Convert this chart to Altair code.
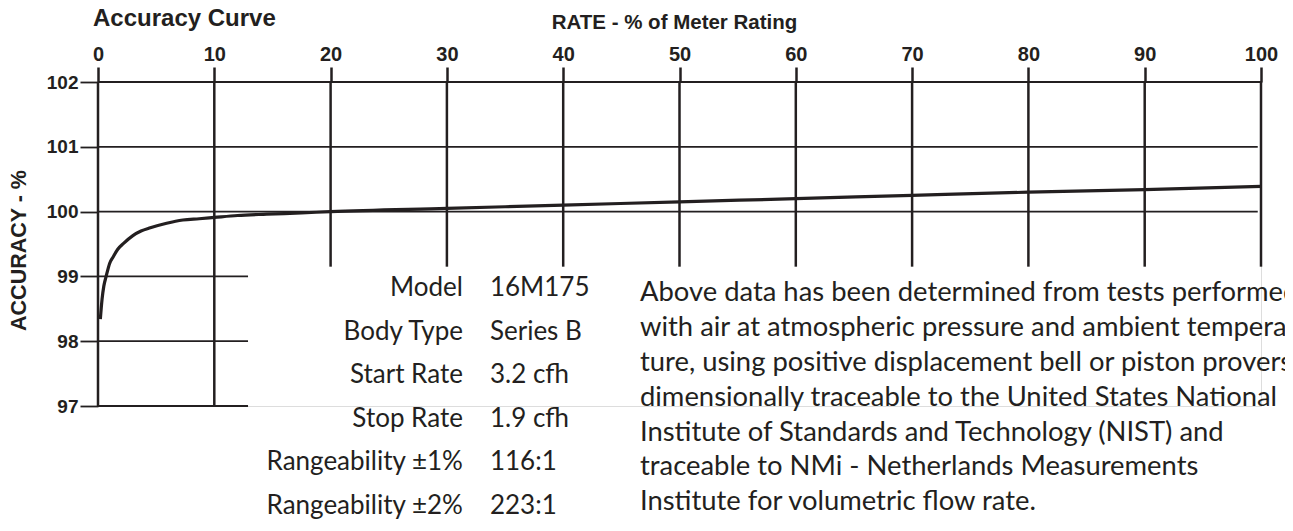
import altair as alt
import pandas as pd

# ---- data ----
rate = [0.2, 0.35, 0.5, 0.7, 1.0, 1.3, 1.7, 2.2, 3.0, 3.7, 4.5, 5.9, 7.3, 8.7, 10,
        12, 14.5, 17.5, 20, 30, 40, 50, 60, 70, 80, 90, 100]
accuracy = [98.34, 98.65, 98.85, 99.0, 99.2, 99.3, 99.42, 99.51, 99.63, 99.7, 99.75,
            99.82, 99.87, 99.89, 99.91, 99.94, 99.96, 99.98, 100.0, 100.05, 100.1,
            100.15, 100.2, 100.25, 100.3, 100.34, 100.39]

x_ticks = [0, 10, 20, 30, 40, 50, 60, 70, 80, 90, 100]
y_ticks = [97, 98, 99, 100, 101, 102]

spec_labels = ["Model", "Body Type", "Start Rate", "Stop Rate",
               "Rangeability ±1%", "Rangeability ±2%"]
spec_values = ["16M175", "Series B", "3.2 cfh", "1.9 cfh", "116:1", "223:1"]

note_lines = [
    "Above data has been determined from tests performed",
    "with air at atmospheric pressure and ambient tempera-",
    "ture, using positive displacement bell or piston provers",
    "dimensionally traceable to the United States National",
    "Institute of Standards and Technology (NIST) and",
    "traceable to NMi - Netherlands Measurements",
    "Institute for volumetric flow rate.",
]

INK = "#231f20"
BOLD = "Liberation Sans"
BODY = "Lato"

XS = alt.Scale(domain=[0, 100], nice=False, zero=False)
YS = alt.Scale(domain=[97, 102], nice=False, zero=False)

curve_df = pd.DataFrame({"rate": rate, "acc": accuracy})

# grid lines (partial, as in the printed chart)
vgrid = pd.DataFrame({
    "x": x_ticks,
    "y1": [102] * len(x_ticks),
    "y2": [97 if v <= 10 else 99.15 for v in x_ticks],
})
hgrid = pd.DataFrame({
    "y": y_ticks,
    "x1": [0] * len(y_ticks),
    "x2": [12.9 if v < 100 else (100 if v == 102 else 99.72) for v in y_ticks],
})

n = len(spec_labels)
spec_df = pd.DataFrame({
    "label": spec_labels,
    "value": spec_values,
    "y": [98.82 - 0.672 * i for i in range(n)],
})
note_df = pd.DataFrame({
    "line": note_lines,
    "y": [98.744 - 0.5386 * i for i in range(len(note_lines))],
})

x_axis = alt.Axis(
    orient="top", values=x_ticks, domain=False, grid=False, format="d",
    ticks=True, tickSize=15, tickWidth=2.5, tickColor=INK,
    labelFont=BOLD, labelFontWeight="bold", labelFontSize=20, labelColor=INK,
    labelPadding=3, labelFlush=False,
    title="RATE - % of Meter Rating", titleFont=BOLD, titleFontWeight="bold",
    titleFontSize=20.5, titleColor=INK, titleX=576, titleY=-60,
    titleBaseline="middle", titleAlign="center",
)
y_axis = alt.Axis(
    orient="left", values=y_ticks, domain=False, grid=False, format="d",
    ticks=True, tickSize=18, tickWidth=1.8, tickColor=INK,
    labelFont=BOLD, labelFontWeight="bold", labelFontSize=19, labelColor=INK,
    labelPadding=2,
    title="ACCURACY - %", titleFont=BOLD, titleFontWeight="bold",
    titleFontSize=21.5, titleColor=INK, titleAngle=270, titleX=-78.5, titleY=168,
    titleBaseline="middle", titleAlign="center",
)

vlines = alt.Chart(vgrid).mark_rule(color=INK, strokeWidth=2.5).encode(
    x=alt.X("x:Q", scale=XS, axis=x_axis),
    y=alt.Y("y1:Q", scale=YS, axis=y_axis),
    y2="y2:Q",
)
hlines = alt.Chart(hgrid).mark_rule(color=INK, strokeWidth=1.8).encode(
    x=alt.X("x1:Q", scale=XS),
    x2="x2:Q",
    y=alt.Y("y:Q", scale=YS),
)
curve = alt.Chart(curve_df).mark_line(
    color=INK, strokeWidth=3.2, interpolate="monotone", strokeCap="butt"
).encode(
    x=alt.X("rate:Q", scale=XS),
    y=alt.Y("acc:Q", scale=YS),
)

labels = alt.Chart(spec_df).mark_text(
    align="right", baseline="middle", font=BODY, fontSize=26, color=INK
).encode(
    x=alt.X("lx:Q", scale=XS),
    y=alt.Y("y:Q", scale=YS),
    text="label:N",
).transform_calculate(lx="31.38")
values = alt.Chart(spec_df).mark_text(
    align="left", baseline="middle", font=BODY, fontSize=26, color=INK
).encode(
    x=alt.X("vx:Q", scale=XS),
    y=alt.Y("y:Q", scale=YS),
    text="value:N",
).transform_calculate(vx="33.7")
notes = alt.Chart(note_df).mark_text(
    align="left", baseline="middle", font=BODY, fontSize=27.4, color=INK
).encode(
    x=alt.X("nx:Q", scale=XS),
    y=alt.Y("y:Q", scale=YS),
    text="line:N",
).transform_calculate(nx="46.6")

chart = alt.layer(vlines, hlines, curve, labels, values, notes).properties(
    width=1163, height=324,
    title=alt.TitleParams("Accuracy Curve", anchor="start", frame="group",
                          font=BOLD, fontWeight="bold", fontSize=24, color=INK,
                          dx=-5, dy=23),
    autosize=alt.AutoSizeParams(type="none"),
    padding={"left": 90, "top": 74, "right": 24, "bottom": 117},
).configure_view(stroke=None).configure(background="white")

chart.save("out.html", embed_options={"renderer": "svg", "actions": False})
